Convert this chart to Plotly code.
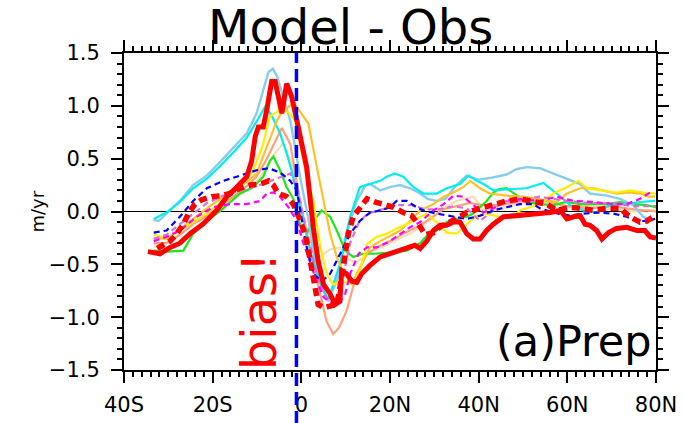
import plotly.graph_objects as go

# ---------------- data (latitude in degrees, value in m/yr) ----------------
lat_lightblue = [-33.3,-32.2,-30.4,-27.4,-24.4,-21.3,-18.3,-15.3,-12.3,-10.1,-8.6,-7.4,-6.4,-5.5,-4.1,-2.5,-1.4,-0.3,1.5,3.0,4.6,6.1,8.3,10.2,12.5,14.5,15.5,17.8,20.0,22.3,24.5,26.4,28.5,30.5,32.5,35.0,37.3,40.0,43.0,46.3,48.5,50.8,53.8,56.8,59.9,62.9,65.1,68.9,71.9,74.9,77.1,79.4]
val_lightblue = [-0.08,-0.09,-0.02,0.10,0.25,0.34,0.47,0.60,0.74,0.93,1.15,1.32,1.35,1.28,1.09,0.86,0.61,0.33,-0.05,-0.45,-0.72,-0.85,-0.62,-0.21,0.10,0.25,0.26,0.20,0.23,0.25,0.22,0.18,0.12,0.10,0.12,0.25,0.34,0.30,0.32,0.35,0.40,0.42,0.41,0.36,0.31,0.26,0.17,0.15,0.12,0.06,-0.05,-0.09]

lat_cyan = [-33.3,-30.4,-27.4,-24.4,-21.3,-18.3,-15.3,-12.3,-10.1,-8.2,-6.7,-4.8,-3.3,-2.2,-1.0,0.5,2.5,4.6,6.1,8.7,11.0,13.2,15.5,17.8,19.3,21.1,23.0,25.3,27.5,30.5,32.8,35.8,37.7,39.6,41.1,43.3,46.3,50.8,54.6,57.6,60.6,63.6,66.6,69.6,72.6,76.4,79.8]
val_cyan = [-0.07,-0.01,0.09,0.22,0.31,0.43,0.56,0.70,0.85,0.99,0.91,0.74,0.55,0.39,0.17,-0.09,-0.45,-0.72,-0.83,-0.50,-0.05,0.23,0.26,0.29,0.33,0.36,0.33,0.23,0.17,0.17,0.22,0.26,0.34,0.29,0.26,0.20,0.21,0.22,0.27,0.17,0.06,0.01,-0.01,0.06,0.07,0.09,0.10]

lat_gold = [-33.3,-30.4,-27.4,-24.4,-21.3,-18.3,-15.3,-12.3,-10.1,-8.6,-7.1,-5.5,-4.1,-1.8,-1.0,1.6,3.5,5.0,6.5,8.0,9.5,11.7,13.2,15.5,17.8,20.0,22.3,24.5,26.8,29.8,32.1,34.3,36.5,38.1,40.3,42.5,46.3,50.1,53.1,57.6,59.9,62.9,65.9,68.1,71.1,74.1,76.4,78.3,79.8]
val_gold = [-0.25,-0.26,-0.17,-0.07,0.03,0.12,0.20,0.28,0.36,0.52,0.67,0.86,0.96,1.02,0.99,0.83,0.42,0.10,-0.21,-0.43,-0.59,-0.66,-0.53,-0.34,-0.28,-0.23,-0.18,-0.09,0.01,0.07,0.14,0.18,0.23,0.29,0.22,0.17,0.15,0.14,0.12,0.09,0.17,0.22,0.22,0.20,0.17,0.18,0.17,0.14,0.14]

lat_yellow = [-33.3,-30.4,-28.9,-25.1,-21.3,-17.6,-13.8,-10.8,-8.6,-7.1,-4.8,-2.9,-1.4,-0.3,1.2,2.7,4.2,5.7,7.2,9.5,11.4,13.2,14.8,17.0,19.3,21.5,23.8,26.0,28.3,30.5,32.8,35.0,37.3,39.6,41.8,44.8,47.8,49.3,53.8,56.8,59.9,62.5,64.4,67.4,71.1,74.1,77.1,80.0]
val_yellow = [-0.22,-0.25,-0.22,-0.12,-0.02,0.10,0.23,0.39,0.64,0.90,0.96,0.94,0.86,0.64,0.33,0.10,-0.31,-0.59,-0.69,-0.66,-0.69,-0.56,-0.31,-0.24,-0.21,-0.16,-0.12,-0.07,-0.02,-0.10,-0.20,-0.21,-0.12,-0.04,-0.02,-0.05,-0.05,0.01,0.07,0.17,0.23,0.29,0.22,0.20,0.18,0.20,0.18,0.17]

lat_salmon = [-33.3,-30.4,-27.4,-24.4,-21.3,-18.3,-15.3,-12.3,-10.1,-8.0,-6.0,-4.4,-2.5,-0.3,2.0,4.2,5.7,7.2,8.5,10.2,12.5,14.8,17.0,20.0,23.0,26.0,29.0,32.0,35.0,38.0,41.0,45.0,50.0,55.0,60.0,65.0,70.0,75.0,80.0]
val_salmon = [-0.30,-0.30,-0.22,-0.12,-0.04,0.05,0.14,0.24,0.33,0.48,0.66,0.79,0.64,0.10,-0.37,-0.78,-1.04,-1.16,-1.10,-0.94,-0.59,-0.40,-0.34,-0.28,-0.21,-0.15,-0.07,0.02,0.05,0.08,0.06,0.06,0.10,0.10,0.05,0.03,0.05,0.02,0.00]

lat_wheat = [-33.3,-30.4,-27.4,-24.4,-21.3,-18.3,-15.3,-12.3,-10.1,-8.0,-6.0,-4.1,-2.5,-1.0,0.5,2.0,3.5,5.0,6.5,8.7,10.5,12.5,15.0,20.0,25.0,29.0,32.0,35.0,38.8,41.0,45.0,50.0,55.0,60.0,65.0,70.0,75.0,80.0]
val_wheat = [-0.33,-0.36,-0.30,-0.17,-0.07,0.03,0.12,0.20,0.28,0.40,0.55,0.64,0.50,0.25,-0.05,-0.30,-0.45,-0.40,-0.36,-0.34,-0.45,-0.48,-0.40,-0.30,-0.20,-0.08,0.03,0.10,0.14,0.02,0.03,0.08,0.08,0.05,0.05,0.02,0.00,0.02]

lat_green = [-33.3,-30.4,-26.6,-24.4,-21.3,-17.6,-13.8,-10.8,-8.6,-7.1,-6.3,-4.8,-3.3,-1.8,-0.3,1.2,2.7,4.6,6.5,8.0,9.9,11.7,13.9,16.3,20.0,23.8,26.8,28.3,30.5,32.8,35.1,37.3,38.8,41.8,43.3,44.5,46.3,48.6,50.8,53.8,56.8,59.9,62.9,65.9,68.9,71.9,74.9,77.9,80.0]
val_green = [-0.37,-0.38,-0.37,-0.21,-0.09,0.03,0.17,0.23,0.33,0.48,0.52,0.39,0.23,0.12,-0.12,-0.21,-0.09,0.01,-0.05,-0.18,-0.37,-0.43,-0.40,-0.40,-0.39,-0.37,-0.30,-0.23,-0.18,-0.10,-0.07,-0.05,-0.02,0.10,0.18,0.21,0.22,0.15,0.09,0.07,0.06,0.09,0.07,0.07,0.07,0.09,0.07,0.06,0.04]

lat_blue = [-33.3,-30.4,-27.4,-24.4,-21.3,-17.6,-13.8,-10.1,-7.4,-4.8,-2.5,-1.0,0.0,1.0,2.7,4.6,6.5,8.7,11.0,13.2,15.5,17.8,20.0,21.5,23.8,26.0,27.5,30.5,33.5,37.3,40.3,43.3,46.3,49.3,52.3,53.8,56.8,60.6,63.6,66.6,70.4,73.4,75.7,77.9,79.8]
val_blue = [-0.20,-0.18,-0.05,0.10,0.22,0.29,0.34,0.39,0.41,0.37,0.29,0.20,-0.05,-0.30,-0.59,-0.66,-0.59,-0.40,-0.21,-0.09,-0.01,0.01,0.04,0.10,0.10,0.04,0.01,-0.02,-0.04,-0.07,-0.04,0.01,0.04,0.07,0.07,0.03,-0.01,-0.04,-0.02,-0.01,-0.02,-0.05,-0.09,-0.09,-0.07]

lat_magenta = [-33.3,-30.4,-27.4,-23.6,-19.9,-16.1,-12.3,-9.3,-7.8,-6.3,-4.8,-2.9,-1.0,0.3,1.6,3.1,5.0,6.5,8.3,9.9,11.0,12.9,14.8,17.0,20.0,22.3,24.5,26.8,29.8,32.1,34.3,36.5,38.8,41.1,43.3,45.6,47.8,50.8,53.8,57.6,61.4,65.9,70.4,73.4,76.4,79.4]
val_magenta = [-0.28,-0.24,-0.18,-0.05,0.04,0.07,0.07,0.10,0.17,0.18,0.14,0.04,-0.09,-0.28,-0.43,-0.62,-0.81,-0.86,-0.88,-0.78,-0.59,-0.40,-0.34,-0.34,-0.28,-0.21,-0.15,-0.10,0.01,0.07,0.15,0.14,0.06,-0.01,0.03,0.09,0.12,0.11,0.10,0.14,0.10,0.09,0.07,0.07,0.12,0.20]

lat_orchid = [-33.3,-30.4,-27.4,-24.4,-21.3,-17.6,-13.8,-10.1,-7.4,-4.8,-2.5,-1.0,0.5,2.0,3.5,5.0,6.5,8.0,9.5,11.0,13.0,15.0,18.0,21.5,25.0,28.0,31.0,34.3,37.3,40.3,43.0,45.6,47.8,50.8,53.8,57.0,60.0,65.0,70.0,75.0,80.0]
val_orchid = [-0.26,-0.22,-0.12,-0.02,0.08,0.15,0.20,0.24,0.28,0.32,0.36,0.23,-0.05,-0.35,-0.60,-0.78,-0.85,-0.83,-0.60,-0.30,-0.10,-0.02,0.02,0.06,0.06,0.02,0.02,0.05,0.03,-0.09,0.00,0.10,0.09,0.12,0.14,0.12,0.10,0.08,0.08,0.05,0.05]

lat_reddot = [-32.5,-31.1,-29.6,-28.1,-26.6,-25.5,-24.0,-22.5,-20.2,-18.0,-16.1,-13.8,-11.6,-9.3,-7.4,-6.3,-5.2,-3.3,-1.8,-0.5,0.8,1.6,2.3,3.1,3.8,5.0,6.5,8.0,8.7,9.5,10.6,11.7,13.2,14.8,16.6,18.5,20.8,23.0,24.9,26.4,28.0,29.8,31.5,33.5,35.0,37.3,40.3,43.3,46.3,49.3,52.3,55.3,57.6,60.6,62.9,65.9,68.9,71.9,74.1,76.4,77.9,79.4]
val_reddot = [-0.35,-0.32,-0.28,-0.21,-0.12,-0.02,0.07,0.11,0.14,0.15,0.17,0.22,0.25,0.26,0.29,0.25,0.17,0.14,0.07,-0.06,-0.21,-0.37,-0.53,-0.72,-0.88,-0.91,-0.89,-0.88,-0.72,-0.47,-0.21,-0.05,0.04,0.12,0.09,0.07,0.04,-0.01,-0.04,-0.12,-0.22,-0.20,-0.14,-0.10,-0.07,-0.01,0.03,0.07,0.10,0.12,0.10,0.07,0.01,0.04,0.03,0.01,0.03,0.03,-0.05,-0.10,-0.09,-0.05]

lat_red = [-34.6,-33.3,-31.9,-29.6,-27.4,-25.1,-22.2,-19.1,-16.8,-14.6,-12.3,-11.2,-10.4,-9.7,-8.6,-7.8,-6.7,-5.9,-4.4,-3.3,-2.2,-1.0,1.2,2.7,3.8,5.0,6.5,7.6,8.7,9.1,10.2,11.4,12.5,13.6,15.5,17.8,20.0,22.3,24.5,25.6,26.8,28.3,29.8,31.3,32.8,34.3,35.8,37.3,38.8,40.3,41.8,43.3,45.6,47.8,50.1,52.3,53.8,56.1,58.4,59.9,61.4,62.9,64.0,65.1,66.6,67.8,69.3,71.1,73.4,75.7,77.5,78.7,80.0]
val_red = [-0.38,-0.39,-0.40,-0.34,-0.30,-0.21,-0.12,0.01,0.14,0.23,0.33,0.48,0.71,0.80,0.80,0.96,1.23,1.23,0.93,1.21,1.09,0.86,0.42,-0.15,-0.47,-0.69,-0.78,-0.88,-0.85,-0.56,-0.59,-0.66,-0.67,-0.59,-0.51,-0.43,-0.40,-0.36,-0.34,-0.32,-0.35,-0.28,-0.18,-0.13,-0.13,-0.10,-0.10,-0.21,-0.26,-0.26,-0.18,-0.12,-0.05,-0.04,-0.04,-0.02,-0.02,-0.01,0.01,-0.07,-0.05,-0.04,-0.12,-0.13,-0.18,-0.26,-0.20,-0.16,-0.15,-0.18,-0.18,-0.24,-0.25]

bias_lat = -1.1   # blue dashed marker line position (degrees)

x_tickvals = [-40, -20, 0, 20, 40, 60, 80]
x_ticktext = ["40S", "20S", "0", "20N", "40N", "60N", "80N"]

# ---------------- figure ----------------
FONT = "DejaVu Sans"
fig = go.Figure()

series = [
    (lat_wheat, val_wheat, "#F5DEB3", 2.2, "solid"),
    (lat_salmon, val_salmon, "#FFA07A", 2.2, "solid"),
    (lat_green, val_green, "#1EE61E", 2.2, "solid"),
    (lat_lightblue, val_lightblue, "#87CEEB", 2.4, "solid"),
    (lat_cyan, val_cyan, "#00EEEE", 2.2, "solid"),
    (lat_gold, val_gold, "#FFC125", 2.2, "solid"),
    (lat_yellow, val_yellow, "#FFEE00", 2.2, "solid"),
    (lat_orchid, val_orchid, "#DA70D6", 2.2, "6px,4px"),
    (lat_magenta, val_magenta, "#FF00FF", 2.2, "6px,4px"),
    (lat_blue, val_blue, "#0000FF", 2.2, "6px,4px"),
]
for lx, vy, col, w, dash in series:
    fig.add_trace(go.Scatter(x=lx, y=vy, mode="lines",
                             line=dict(color=col, width=w, dash=dash),
                             showlegend=False, hoverinfo="skip"))

fig.add_trace(go.Scatter(x=lat_reddot, y=val_reddot, mode="lines",
                         line=dict(color="#FF0000", width=5.5, dash="8px,5px"),
                         showlegend=False, hoverinfo="skip"))
fig.add_trace(go.Scatter(x=lat_red, y=val_red, mode="lines",
                         line=dict(color="#FF0000", width=5),
                         showlegend=False, hoverinfo="skip"))

fig.add_shape(type="line", xref="x", yref="paper", x0=bias_lat, x1=bias_lat,
              y0=-0.17, y1=1.0, line=dict(color="#0000FF", width=3.5, dash="13px,6px"),
              layer="above")

axis_common = dict(showline=True, linecolor="black", linewidth=2, mirror="allticks",
                   ticks="outside", ticklen=11, tickwidth=2, tickcolor="black",
                   showgrid=False, automargin=False,
                   tickfont=dict(family=FONT, size=21, color="black"))

fig.update_xaxes(range=[-40, 80], tickvals=x_tickvals, ticktext=x_ticktext,
                 zeroline=False, ticklabelstandoff=4,
                 minor=dict(dtick=2, ticks="outside", ticklen=5, tickwidth=1.5,
                            tickcolor="black", showgrid=False),
                 **axis_common)
fig.update_yaxes(range=[-1.5, 1.5], dtick=0.5, tick0=0, tickformat=".1f",
                 zeroline=True, zerolinecolor="black", zerolinewidth=1.2,
                 ticklabelstandoff=7,
                 minor=dict(dtick=0.1, ticks="outside", ticklen=5, tickwidth=1.5,
                            tickcolor="black", showgrid=False),
                 **axis_common)

fig.add_annotation(text="Model - Obs", xref="paper", yref="paper",
                   x=(350 - 124) / 532, y=1 + 56 / 317, xanchor="center", yanchor="top",
                   showarrow=False, font=dict(family=FONT, size=48, color="black"))
fig.add_annotation(text="(a)Prep", xref="paper", yref="paper",
                   x=0.997, y=0.092, xanchor="right", yanchor="middle",
                   showarrow=False, font=dict(family=FONT, size=43, color="black"))
fig.add_annotation(text="bias!", xref="paper", yref="paper",
                   x=0.254, y=0.183, xanchor="center", yanchor="middle", textangle=-90,
                   showarrow=False, font=dict(family=FONT, size=48, color="#FF0000"))
fig.add_annotation(text="m/yr", xref="paper", yref="paper",
                   x=-0.1635, y=0.5, xanchor="center", yanchor="middle", textangle=-90,
                   showarrow=False, font=dict(family=FONT, size=18, color="black"))

fig.update_layout(width=684, height=423, margin=dict(l=124, r=28, t=53, b=53, autoexpand=False),
                  plot_bgcolor="white", paper_bgcolor="white", showlegend=False)

fig.write_html("out.html")
